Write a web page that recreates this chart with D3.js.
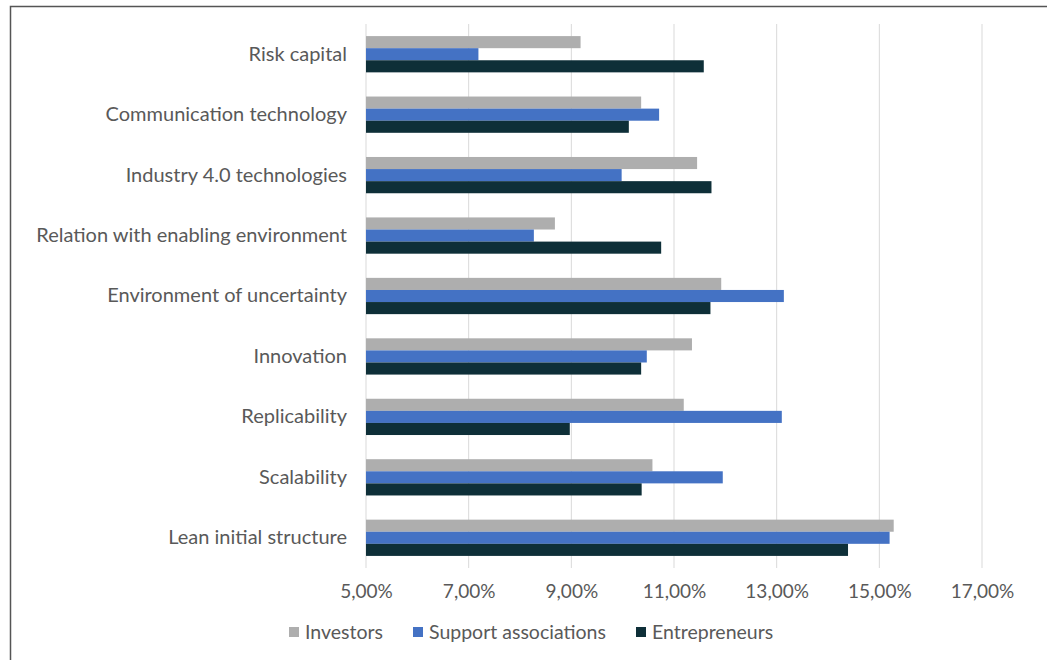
<!DOCTYPE html>
<html>
<head>
<meta charset="utf-8">
<script src="https://cdn.jsdelivr.net/npm/d3@7"></script>
<style>
  body { margin: 0; background: #fff; }
  text { font-family: Lato, "Open Sans", sans-serif; fill: #595959; }
</style>
</head>
<body>
<div id="my_dataviz"></div>
<script>
// chart data
const categories = ["Risk capital", "Communication technology", "Industry 4.0 technologies",
  "Relation with enabling environment", "Environment of uncertainty", "Innovation",
  "Replicability", "Scalability", "Lean initial structure"];
const seriesNames = ["Investors", "Support associations", "Entrepreneurs"];
const investors   = [0.0918, 0.1036, 0.1145, 0.0868, 0.1192, 0.1135, 0.1119, 0.1058, 0.1528];
const support     = [0.0719, 0.1071, 0.0998, 0.0827, 0.1314, 0.1047, 0.1310, 0.1195, 0.1520];
const entrepreneurs = [0.1158, 0.1012, 0.1173, 0.1075, 0.1171, 0.1036, 0.0897, 0.1037, 0.1439];
const xTicks = [0.05, 0.07, 0.09, 0.11, 0.13, 0.15, 0.17];

const colors = ["#AEAEAE", "#4472C4", "#0E2F38"];
const series = [investors, support, entrepreneurs];

const W = 1047, H = 660;
const plot = {left: 366, right: 982, top: 24, bottom: 568};

const svg = d3.select("#my_dataviz")
  .append("svg")
    .attr("width", W)
    .attr("height", H);

// frame lines (left and top of the chart box)
svg.append("path")
  .attr("d", `M10.5,${H} L10.5,6.5 L${W},6.5`)
  .attr("fill", "none")
  .attr("stroke", "#555")
  .attr("stroke-width", 1.5);

const x = d3.scaleLinear()
  .domain([0.05, 0.17])
  .range([plot.left, plot.right]);

const y = d3.scaleBand()
  .domain(categories)
  .range([plot.top, plot.bottom])
  .paddingInner(0.4)
  .paddingOuter(0.2);

const ySub = d3.scaleBand()
  .domain(seriesNames)
  .range([0, y.bandwidth()]);

// comma decimal format
const locale = d3.formatLocale({decimal: ",", thousands: ".", grouping: [3], currency: ["", "€"]});
const fmt = locale.format(".2%");

// gridlines
svg.append("g")
  .selectAll("line")
  .data(xTicks)
  .join("line")
    .attr("x1", d => x(d))
    .attr("x2", d => x(d))
    .attr("y1", plot.top)
    .attr("y2", plot.bottom)
    .attr("stroke", "#D9D9D9")
    .attr("stroke-width", 1);

// x axis labels
const xAxis = svg.append("g")
  .attr("transform", `translate(0, ${plot.bottom})`)
  .call(d3.axisBottom(x).tickValues(xTicks).tickFormat(fmt).tickSize(0).tickPadding(17));
xAxis.select(".domain").remove();
xAxis.selectAll("text")
  .style("font-size", "19px")
  .attr("fill", "#595959");

// y axis labels
const yAxis = svg.append("g")
  .attr("transform", `translate(${plot.left}, 0)`)
  .call(d3.axisLeft(y).tickSize(0).tickPadding(19));
yAxis.select(".domain").remove();
yAxis.selectAll("text")
  .style("font-size", "20px")
  .attr("fill", "#595959");

// bars
const groups = svg.append("g")
  .selectAll("g")
  .data(categories)
  .join("g")
    .attr("transform", d => `translate(0, ${y(d)})`);

groups.selectAll("rect")
  .data((d, i) => seriesNames.map((s, j) => ({s: s, v: series[j][i], c: colors[j]})))
  .join("rect")
    .attr("x", x(0.05))
    .attr("y", d => ySub(d.s))
    .attr("width", d => x(d.v) - x(0.05))
    .attr("height", ySub.bandwidth())
    .attr("fill", d => d.c);

// legend
const legendX = [289, 413, 636];
const legend = svg.append("g")
  .selectAll("g")
  .data(seriesNames)
  .join("g")
    .attr("transform", (d, i) => `translate(${legendX[i]}, 632)`);
legend.append("rect")
  .attr("x", 0)
  .attr("y", -5)
  .attr("width", 10)
  .attr("height", 10)
  .attr("fill", (d, i) => colors[i]);
legend.append("text")
  .attr("x", 16)
  .attr("y", 0)
  .attr("dy", "0.35em")
  .style("font-size", "19.5px")
  .text(d => d);
</script>
</body>
</html>
